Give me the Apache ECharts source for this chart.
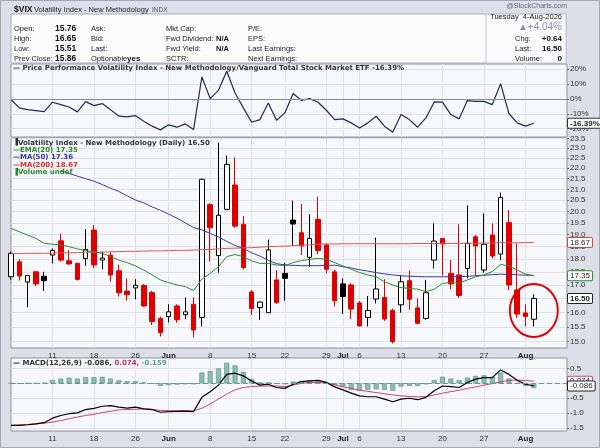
<!DOCTYPE html>
<html><head><meta charset="utf-8">
<script src="https://cdn.jsdelivr.net/npm/echarts@6/dist/echarts.min.js"></script>
<style>html,body{margin:0;padding:0;background:#dcdfe7}#c{width:600px;height:448px}</style>
</head><body><div id="c"></div>
<script>
const dates = ['2026-05-04','2026-05-05','2026-05-06','2026-05-07','2026-05-08','2026-05-11','2026-05-12','2026-05-13','2026-05-14','2026-05-15','2026-05-18','2026-05-19','2026-05-20','2026-05-21','2026-05-22','2026-05-26','2026-05-27','2026-05-28','2026-05-29','2026-06-01','2026-06-02','2026-06-03','2026-06-04','2026-06-05','2026-06-08','2026-06-09','2026-06-10','2026-06-11','2026-06-12','2026-06-15','2026-06-16','2026-06-17','2026-06-18','2026-06-22','2026-06-23','2026-06-24','2026-06-25','2026-06-26','2026-06-29','2026-06-30','2026-07-01','2026-07-02','2026-07-06','2026-07-07','2026-07-08','2026-07-09','2026-07-10','2026-07-13','2026-07-14','2026-07-15','2026-07-16','2026-07-17','2026-07-20','2026-07-21','2026-07-22','2026-07-23','2026-07-24','2026-07-27','2026-07-28','2026-07-29','2026-07-30','2026-07-31','2026-08-03','2026-08-04'];
const futureDates = ['2026-08-05','2026-08-06','2026-08-07','2026-08-10'];

const openV  = [17.31,17.89,17.11,17.50,17.33, 18.16,18.74,17.93,17.83,18.02, 19.19,17.96,18.16,17.54,16.77, 16.89,16.98,16.72,15.79, 15.85,16.23,15.92,16.29,15.82, 20.30,18.14,20.09,21.20,19.44, 16.74,16.17,15.99,17.19, 17.44,19.62,19.08,18.07,19.65, 18.57,17.50,17.04,17.00, 16.34,15.82,16.48,16.54,16.07, 16.27,17.16,16.16,15.79,17.96, 18.84,17.44,17.38,17.63,18.91, 17.57,18.98,18.20,19.51,16.81, 15.98,15.76];
const highV  = [18.30,18.00,17.36,17.54,17.50, 18.43,19.05,18.36,17.86,19.23, 19.41,18.30,18.30,17.77,17.25, 17.22,17.04,16.78,15.85, 16.29,16.29,16.54,16.54,21.50, 20.36,23.29,22.62,22.54,19.80, 16.81,16.39,18.79,17.57, 17.86,20.48,20.33,19.88,20.66, 18.64,17.57,17.25,17.06, 16.41,16.59,18.87,17.22,16.14, 17.35,17.54,16.50,17.19,19.48, 18.84,17.96,19.44,20.27,18.98, 19.91,19.48,20.85,20.06,18.64, 16.29,16.65];
const lowV   = [17.20,17.17,16.18,16.96,16.78, 17.83,17.90,17.77,17.17,17.73, 17.65,17.59,17.12,16.57,16.42, 16.47,16.20,15.56,15.17, 15.65,15.64,15.76,15.14,15.51, 17.90,17.47,20.05,19.29,17.59, 15.91,15.74,15.98,16.31, 16.42,18.53,18.16,17.70,18.20, 17.44,16.21,15.94,15.76, 15.51,15.51,16.32,15.70,14.94, 15.99,16.09,15.59,15.74,17.63, 17.35,16.84,16.52,17.25,17.35, 17.47,18.03,17.96,16.81,15.81, 15.51,15.51];
const closeV = [18.23,17.34,17.36,17.04,17.16, 18.35,17.96,17.81,17.21,18.39, 17.77,18.04,17.38,16.71,16.64, 16.99,16.23,15.68,15.30, 16.02,15.74,16.02,15.39,21.47, 19.29,19.83,22.19,19.36,17.67, 16.14,16.37,18.37,16.35, 17.25,19.45,18.53,18.84,18.34, 17.60,16.42,16.57,16.12, 15.53,16.07,16.85,15.77,15.00, 17.12,16.47,15.62,16.71,18.73, 18.61,17.04,16.61,18.64,18.53, 18.60,18.12,20.62,17.00,15.94, 15.86,16.50];

const ema20 = [19.26,19.12,18.98,18.84,18.64, 18.60,18.57,18.50,18.41,18.34, 18.29,18.23,18.10,17.96,17.86, 17.73,17.57,17.38,17.19, 17.09,17.00,16.94,16.79,17.22, 17.44,17.70,18.10,18.18,18.10, 17.93,17.83,17.83,17.77, 17.74,17.86,17.94,17.99,18.03, 17.99,17.86,17.73,17.60, 17.47,17.38,17.31,17.12,17.00, 16.90,16.87,16.84,16.75,16.84, 17.06,17.09,17.06,17.19,17.31, 17.38,17.51,17.79,17.73,17.57, 17.41,17.35];
const ma50 = [null,null,null,null,null,null, 21.88,21.75,21.62,21.50,21.38,21.22,21.05,20.90,20.70,20.51,20.38,20.20,20.05,19.88,19.70,19.50,19.30,19.20, 19.05,18.90,18.72,18.55,18.43,18.25,18.12,17.95,17.82,17.77,17.75,17.74,17.74,17.74,17.75,17.76,17.70,17.65,17.58,17.53,17.47,17.42, 17.38,17.35,17.33,17.32,17.31,17.31,17.31,17.31,17.31,17.33,17.35,17.37,17.39,17.41,17.40,17.39,17.37,17.36];
const ma200 = [18.22,18.22,18.23,18.23,18.23, 18.24,18.25,18.25,18.26,18.27, 18.27,18.28,18.29,18.30,18.31, 18.31,18.32,18.33,18.33, 18.34,18.35,18.35,18.36,18.38, 18.39,18.41,18.43,18.44,18.45, 18.46,18.48,18.50,18.51, 18.52,18.54,18.56,18.58,18.60, 18.61,18.61,18.62,18.62, 18.62,18.62,18.62,18.62,18.62, 18.62,18.62,18.63,18.63,18.63, 18.63,18.63,18.64,18.64,18.64, 18.65,18.65,18.66,18.66,18.66, 18.67,18.67];

const perf = [-0.4,-6.0,-7.2,-7.8,-8.5, -2.2,-3.8,-5.4,-8.7,-1.8, -4.5,-3.1,-7.2,-11.6,-12.1, -11.2,-15.0,-18.3,-20.8, -17.4,-19.0,-16.8,-20.6,14.8, 0.2,5.8,18.6,4.0,-6.0, -15.7,-13.9,-2.7,-14.3, -9.4,3.6,-1.0,0.2,-2.2, -7.6,-13.9,-13.4,-16.1, -19.5,-16.1,-11.6,-18.3,-22.4, -10.5,-13.9,-19.0,-12.8,-2.0, -2.2,-10.5,-13.4,-1.1,-1.6, -1.6,-3.8,10.3,-9.8,-16.1, -18.3,-16.39];

const macd = [-1.41,-1.41,-1.39,-1.36,-1.32, -1.17,-1.08,-1.02,-0.99,-0.88, -0.84,-0.77,-0.75,-0.80,-0.83, -0.80,-0.86,-0.88,-0.97, -0.95,-0.94,-0.93,-0.95,-0.47, -0.28,-0.06,0.30,0.34,0.25, 0.08,-0.06,-0.03,-0.14, -0.17,-0.03,0.06,0.08,0.10, 0.03,-0.12,-0.22,-0.33, -0.42,-0.45,-0.45,-0.53,-0.62, -0.53,-0.50,-0.55,-0.47,-0.25, -0.09,-0.11,-0.14,0.03,0.14, 0.19,0.19,0.45,0.30,0.10, -0.03,-0.086];
const signal = [-1.41,-1.40,-1.38,-1.36,-1.34, -1.30,-1.25,-1.19,-1.13,-1.08, -1.04,-0.98,-0.94,-0.89,-0.88, -0.87,-0.86,-0.87,-0.91, -0.92,-0.92,-0.92,-0.92,-0.84, -0.69,-0.53,-0.36,-0.22,-0.14, -0.11,-0.09,-0.09,-0.09, -0.11,-0.06,0.00,0.03,0.03, 0.01,-0.05,-0.12,-0.17, -0.23,-0.27,-0.31,-0.35,-0.39, -0.42,-0.44,-0.45,-0.45,-0.39, -0.33,-0.28,-0.23,-0.17,-0.12, -0.06,-0.01,0.05,0.10,0.11, 0.09,0.074];
const hist = [0.00,-0.01,0.00,0.00,0.02, 0.11,0.16,0.19,0.16,0.21, 0.21,0.22,0.16,0.10,0.07, 0.07,0.03,-0.01,-0.09, -0.06,-0.04,-0.03,-0.03,0.36, 0.41,0.50,0.69,0.60,0.39, 0.14,0.03,0.03,-0.01, -0.03,0.06,0.08,0.10,0.11, 0.03,-0.06,-0.11,-0.22, -0.25,-0.22,-0.20,-0.22,-0.25, -0.11,-0.09,-0.09,-0.03,0.11, 0.22,0.16,0.11,0.19,0.25, 0.27,0.22,0.36,0.16,0.00, -0.09,-0.159];

const priceTicks = [15.0,15.5,16.0,16.5,17.0,17.5,18.0,18.5,19.0,19.5,20.0,20.5,21.0,21.5,22.0,22.5,23.0,23.5];
const perfTicks = [20,10,0,-10,-20];
const macdTicks = [0.5,0.0,-0.5,-1.0,-1.5];
const tickDates = ['2026-05-11','2026-05-18','2026-05-26','2026-06-01','2026-06-08','2026-06-15','2026-06-22','2026-06-29','2026-07-01','2026-07-06','2026-07-13','2026-07-20','2026-07-27','2026-08-03'];
const tickTexts = ['11','18','26','Jun','8','15','22','29','Jul','6','13','20','27','Aug'];

const symbolName = '$VIX';
const fullName = 'Volatility Index - New Methodology';
const exchange = 'INDX';
const compareName = 'Vanguard Total Stock Market ETF';
const lastDateText = 'Tuesday  4-Aug-2026';

// ---------- derived ----------
const n = dates.length;
const cats = dates.concat(futureDates);
const tickIdx = new Set(tickDates.map(d => cats.indexOf(d)));
const isTick = (i) => tickIdx.has(i);
const last = a => a[a.length - 1];
const f2 = v => v.toFixed(2);

const candleData = dates.map((d, i) => {
  const o = openV[i], c = closeV[i];
  const prev = i > 0 ? closeV[i - 1] : o;
  const col = c >= prev ? '#000000' : '#e00000';
  const up = c >= o;
  const fill = up ? '#ffffff' : col;
  return { value: [o, c, lowV[i], highV[i]],
    itemStyle: { color: fill, color0: fill, borderColor: col, borderColor0: col, borderWidth: 1 } };
});

const FONT = 'Liberation Sans';
const LFONT = 'DejaVu Sans';
const PLOTBG = '#f7f8fb';
const GRID = '#e0e1e6';
const LS = 7;

function xAxisFor(gi, showLabel) {
  return {
    type: 'category', gridIndex: gi, data: cats, boundaryGap: false,
    axisLine: { show: false }, axisTick: { show: false },
    axisLabel: {
      show: showLabel, interval: (i) => isTick(i), margin: 4, fontSize: 8, color: '#333', fontFamily: FONT,
      formatter: (v) => { const t = tickTexts[tickDates.indexOf(v)] || ''; return /^[A-Za-z]/.test(t) ? '{m|' + t + '}' : t; },
      rich: { m: { fontWeight: 'bold', fontSize: 8, color: '#222', fontFamily: FONT } }
    },
    splitLine: { show: true, interval: (i) => isTick(i), lineStyle: { color: GRID, width: 1 } }
  };
}
function yAxisFor(gi, type, min, max, ticks, fmt) {
  const ax = {
    type: type, gridIndex: gi, position: 'right', min: min, max: max, scale: true,
    axisLine: { show: false },
    axisTick: { show: true, customValues: ticks, length: 2, lineStyle: { color: '#666' } },
    axisLabel: { customValues: ticks, formatter: fmt, fontSize: 8, margin: 3, color: '#333', fontFamily: FONT },
    splitLine: { show: true, lineStyle: { color: GRID, width: 1 } }
  };
  if (type === 'log') ax.logBase = 10;
  return ax;
}
function tag(val, text, border, bold) {
  return { yAxis: val, lineStyle: { color: 'rgba(0,0,0,0)', width: 0, opacity: 1 },
    label: { show: true, position: 'end', formatter: text, distance: 1, fontSize: 8, fontFamily: FONT, opacity: 1,
      color: '#222', fontWeight: bold ? 'bold' : 'normal', backgroundColor: '#ffffff',
      borderColor: border, borderWidth: 1, padding: [1, 2, 0, 2], borderRadius: 1 } };
}

// header texts
const prevClose = closeV[n - 2];
const chg = last(closeV) - prevClose;
const pct = chg / prevClose * 100;
const hdr = [];
function T(x, y, text, size, weight, color, align, family) {
  hdr.push({ type: 'text', x: x, y: y, silent: true, z: 10,
    style: { text: text, fill: color || '#222', fontSize: size, fontWeight: weight || 'normal',
      fontFamily: family || FONT, align: align || 'left', textAlign: align || 'left',
      verticalAlign: 'middle', textVerticalAlign: 'middle' } });
}
hdr.push({ type: 'rect', shape: { x: 0.5, y: 0.5, width: 599, height: 447 }, style: { fill: 'none', stroke: '#a4a8b4', lineWidth: 1 }, silent: true, z: 0 });
hdr.push({ type: 'rect', shape: { x: 11, y: 14, width: 555, height: 49 }, style: { fill: '#fbfbfc', stroke: '#a9adb8', lineWidth: 1 }, silent: true, z: 1 });
hdr.push({ type: 'rect', shape: { x: 486, y: 14, width: 80, height: 49 }, style: { fill: '#fbfbfc', stroke: '#c4c7cf', lineWidth: 1 }, silent: true, z: 2 });
T(14, 9.5, symbolName, 8.5, 'bold', '#111');
T(34, 10, fullName, 7.5, 'normal', '#222');
T(152, 10.5, exchange, 6.5, 'normal', '#555');
T(567, 6.5, '@StockCharts.com', 7, 'normal', '#666', 'right');
const rowsY = [29, 39, 49, 59];
[['Open:', f2(openV[n-1])], ['High:', f2(highV[n-1])], ['Low:', f2(lowV[n-1])], ['Prev Close:', f2(prevClose)]].forEach((r, k) => {
  T(14, rowsY[k], r[0], 7.5); T(55, rowsY[k], r[1], 8.5, 'bold', '#111');
});
['Ask:', 'Bid:', 'Last:', 'Optionable'].forEach((t, k) => T(91, rowsY[k], t, 7.5));
T(127, 59, 'yes', 8, 'bold', '#111');
['Mkt Cap:', 'Fwd Dividend:', 'Fwd Yield:', 'SCTR:'].forEach((t, k) => T(166, rowsY[k], t, 7.5));
T(216, 39, 'N/A', 7.5, 'bold', '#111'); T(216, 49, 'N/A', 7.5, 'bold', '#111');
['P/E:', 'EPS:', 'Last Earnings:', 'Next Earnings:'].forEach((t, k) => T(248, rowsY[k], t, 7.5));
T(562, 17, lastDateText, 7.5, 'normal', '#222', 'right');
T(562, 27, '\u25B2+' + pct.toFixed(2) + '%', 10, 'normal', '#8494b2', 'right');
T(515, 39, 'Chg:', 7.5); T(562, 39, (chg >= 0 ? '+' : '') + f2(chg), 8, 'bold', '#111', 'right');
T(515, 49, 'Last:', 7.5); T(562, 49, f2(last(closeV)), 8, 'bold', '#111', 'right');
T(515, 59, 'Volume:', 7.5); T(562, 59, '0', 8, 'bold', '#111', 'right');

const gridBase = { left: 11, right: 33, show: true, backgroundColor: PLOTBG, borderColor: '#8e929c', borderWidth: 1 };
const ML = (data) => ({ symbol: ['none', 'none'], silent: true, animation: false, data: data });

const option = {
  backgroundColor: '#dcdfe7',
  animation: false,
  textStyle: { fontFamily: FONT },
  grid: [
    Object.assign({ top: 64, height: 73 }, gridBase),
    Object.assign({ top: 138, height: 210 }, gridBase),
    Object.assign({ top: 358, height: 73 }, gridBase)
  ],
  title: [
    { left: 13, top: 63.5, padding: 0,
      text: '{l|\u2014} {t|Price Performance ' + fullName + '/' + compareName + ' ' + last(perf).toFixed(2) + '%}',
      textStyle: { fontSize: LS, fontFamily: LFONT, lineHeight: 9,
        rich: { l: { color: '#1c2c5c', fontSize: LS, fontFamily: LFONT, fontWeight: 'bold' }, t: { color: '#333', fontSize: LS, fontFamily: LFONT } } } },
    { left: 13, top: 139, padding: 0,
      text: '{i|\u2590}{t|' + fullName + ' (Daily) ' + f2(last(closeV)) + '}\n{g|\u2014EMA(20) ' + f2(last(ema20)) + '}\n{b|\u2014MA(50) ' + f2(last(ma50)) + '}\n{r|\u2014MA(200) ' + f2(last(ma200)) + '}\n{v|\u2590}{v2|Volume undef}',
      textStyle: { fontSize: LS, fontFamily: LFONT, lineHeight: 7.4,
        rich: {
          i: { color: '#333', fontSize: 6.5, fontFamily: LFONT, lineHeight: 7.4 },
          t: { color: '#333', fontSize: LS, fontFamily: LFONT, lineHeight: 7.4 },
          g: { color: '#2a8a2a', fontSize: LS, fontFamily: LFONT, lineHeight: 7.4 },
          b: { color: '#33339e', fontSize: LS, fontFamily: LFONT, lineHeight: 7.4 },
          r: { color: '#e02828', fontSize: LS, fontFamily: LFONT, lineHeight: 7.4 },
          v: { color: '#2a8a2a', fontSize: 6.5, fontFamily: LFONT, lineHeight: 7.4 },
          v2: { color: '#2a8a2a', fontSize: LS, fontFamily: LFONT, lineHeight: 7.4 }
        } } },
    { left: 13, top: 358.5, padding: 0,
      text: '{l|\u2014} {t|MACD(12,26,9) ' + last(macd).toFixed(3) + ',}{s| ' + last(signal).toFixed(3) + ',}{h| ' + last(hist).toFixed(3) + '}',
      textStyle: { fontSize: LS, fontFamily: LFONT, lineHeight: 9,
        rich: { l: { color: '#000', fontSize: LS, fontFamily: LFONT, fontWeight: 'bold' }, t: { color: '#333', fontSize: LS, fontFamily: LFONT },
          s: { color: '#c8305e', fontSize: LS, fontFamily: LFONT }, h: { color: '#5aa08a', fontSize: LS, fontFamily: LFONT } } } }
  ],
  xAxis: [xAxisFor(0, false), xAxisFor(1, true), xAxisFor(2, true)],
  yAxis: [
    yAxisFor(0, 'value', -25.6, 23.5, perfTicks, v => v + '%'),
    yAxisFor(1, 'log', 14.79, 23.52, priceTicks, v => Number(v).toFixed(1)),
    yAxisFor(2, 'value', -1.6, 0.85, macdTicks, v => Number(v).toFixed(1))
  ],
  series: [
    { type: 'line', name: 'Performance', xAxisIndex: 0, yAxisIndex: 0, data: perf, showSymbol: false, symbol: 'none',
      lineStyle: { color: '#1c2c5c', width: 1.2 }, z: 3, clip: false,
      markLine: ML([ { yAxis: 0, lineStyle: { color: '#8c8c8c', width: 1, type: 'solid' }, label: { show: false } },
                     tag(last(perf), last(perf).toFixed(2) + '%', '#333', true) ]) },
    { type: 'candlestick', name: 'VIX', xAxisIndex: 1, yAxisIndex: 1, data: candleData, barWidth: 5, clip: true, z: 2 },
    { type: 'line', name: 'MA(200)', xAxisIndex: 1, yAxisIndex: 1, data: ma200, showSymbol: false, symbol: 'none', z: 3, clip: false,
      lineStyle: { color: '#e45454', width: 1 },
      markLine: ML([ tag(last(ma200), f2(last(ma200)), '#e04040', false) ]) },
    { type: 'line', name: 'MA(50)', xAxisIndex: 1, yAxisIndex: 1, data: ma50, showSymbol: false, symbol: 'none', z: 3, clip: false,
      lineStyle: { color: '#3a3aa8', width: 1 } },
    { type: 'line', name: 'EMA(20)', xAxisIndex: 1, yAxisIndex: 1, data: ema20, showSymbol: false, symbol: 'none', z: 3, clip: false,
      lineStyle: { color: '#2e8b2e', width: 1 },
      markLine: ML([ tag(last(ema20), f2(last(ema20)), '#2e8b2e', false), tag(last(closeV), f2(last(closeV)), '#222', true) ]),
      markPoint: { silent: true, animation: false,
        data: [ { coord: [last(dates), 16.07], symbol: 'circle', symbolSize: [48, 53],
          itemStyle: { color: 'rgba(0,0,0,0)', borderColor: '#e00000', borderWidth: 2 }, label: { show: false } } ] } },
    { type: 'bar', name: 'Hist', xAxisIndex: 2, yAxisIndex: 2, data: hist, barWidth: 5, z: 2,
      itemStyle: { color: '#8dbdac', borderColor: '#5b8f80', borderWidth: 0.6 },
      markLine: ML([ { yAxis: 0, lineStyle: { color: '#5f9f8c', width: 1, type: [5, 3] }, label: { show: false } } ]) },
    { type: 'line', name: 'Signal', xAxisIndex: 2, yAxisIndex: 2, data: signal, showSymbol: false, symbol: 'none', z: 3, clip: false,
      lineStyle: { color: '#d04070', width: 1 },
      markLine: ML([ tag(last(signal), last(signal).toFixed(3), '#d04070', false) ]) },
    { type: 'line', name: 'MACD', xAxisIndex: 2, yAxisIndex: 2, data: macd, showSymbol: false, symbol: 'none', z: 4, clip: false,
      lineStyle: { color: '#000000', width: 1.2 },
      markLine: ML([ tag(last(macd), last(macd).toFixed(3), '#222', false) ]) }
  ],
  graphic: { elements: hdr }
};
const chart = echarts.init(document.getElementById('c'), null, { renderer: 'canvas' });
chart.setOption(option);
</script>
</body></html>
